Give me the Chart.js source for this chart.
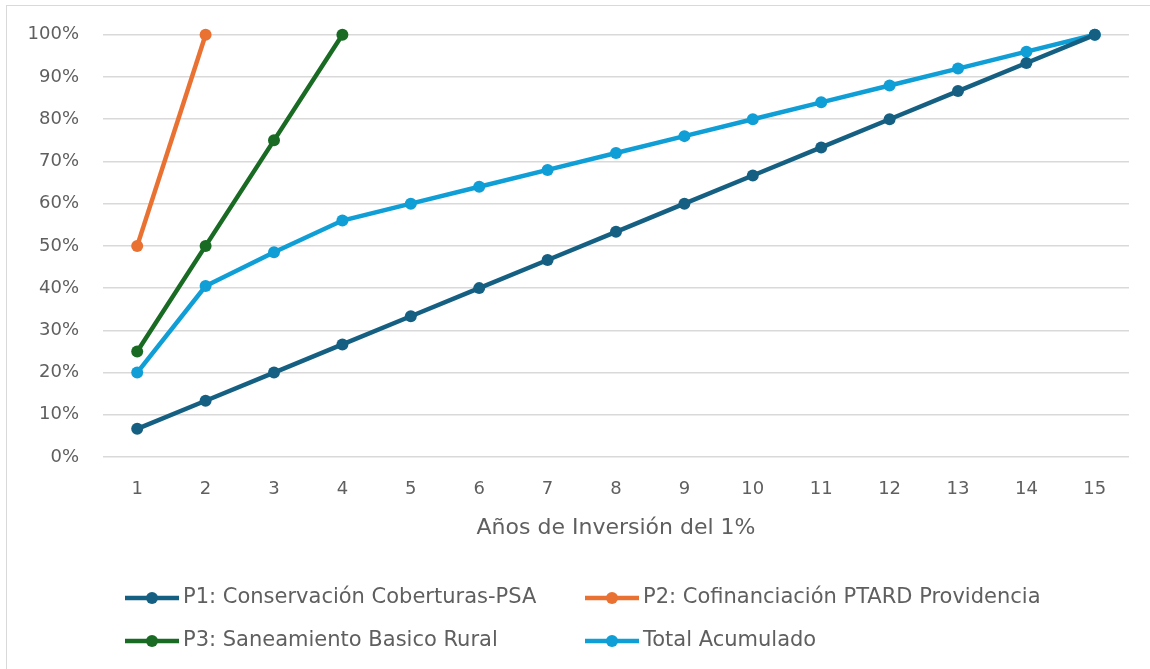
<!DOCTYPE html>
<html>
<head>
<meta charset="utf-8">
<script src="https://cdn.jsdelivr.net/npm/chart.js@4/dist/chart.umd.min.js"></script>
<style>
  html, body { margin: 0; padding: 0; background: #fff; }
  #wrap { position: relative; width: 1150px; height: 669px; }
  #frame { position: absolute; left: 6px; top: 5px; width: 1150px; height: 670px; border: 1px solid #d9d9d9; box-sizing: border-box; }
</style>
</head>
<body>
<div id="wrap">
  <div id="frame"></div>
  <canvas id="chart" width="1150" height="669"></canvas>
</div>
<script>
// data
const years = ['1', '2', '3', '4', '5', '6', '7', '8', '9', '10', '11', '12', '13', '14', '15'];
const p1Values = [6.67, 13.33, 20, 26.67, 33.33, 40, 46.67, 53.33, 60, 66.67, 73.33, 80, 86.67, 93.33, 100];
const p2Values = [50, 100];
const p3Values = [25, 50, 75, 100];
const totalValues = [20, 40.5, 48.5, 56, 60, 64, 68, 72, 76, 80, 84, 88, 92, 96, 100];
const seriesNames = [
  'P1: Conservación Coberturas-PSA',
  'P2: Cofinanciación PTARD Providencia',
  'P3: Saneamiento Basico Rural',
  'Total Acumulado'
];
const seriesColors = ['#156082', '#E97132', '#196B24', '#0F9ED5'];

const FONT = '"DejaVu Sans", sans-serif';
const TEXT = '#5f5f5f';

function makeSet(i, values) {
  return {
    label: seriesNames[i],
    data: values,
    borderColor: seriesColors[i],
    backgroundColor: seriesColors[i],
    borderWidth: 4.5,
    pointRadius: 6,
    pointHoverRadius: 6,
    pointBorderWidth: 0,
    tension: 0,
    fill: false,
    clip: false
  };
}

// legend in two columns, drawn under the axis title
const legendPlugin = {
  id: 'twoColLegend',
  afterDraw(chart) {
    const ctx = chart.ctx;
    const cols = [125, 585];
    const rows = [598, 641];
    ctx.save();
    chart.data.datasets.forEach((ds, k) => {
      const x = cols[k % 2];
      const y = rows[Math.floor(k / 2)];
      ctx.strokeStyle = ds.borderColor;
      ctx.lineWidth = 4.5;
      ctx.beginPath();
      ctx.moveTo(x, y);
      ctx.lineTo(x + 54, y);
      ctx.stroke();
      ctx.fillStyle = ds.borderColor;
      ctx.beginPath();
      ctx.arc(x + 27, y, 6, 0, 2 * Math.PI);
      ctx.fill();
      ctx.fillStyle = TEXT;
      ctx.font = '21px ' + FONT;
      ctx.textBaseline = 'middle';
      ctx.textAlign = 'left';
      ctx.fillText(ds.label, x + 58, y);
    });
    ctx.restore();
  }
};

const ctx = document.getElementById('chart').getContext('2d');
new Chart(ctx, {
  type: 'line',
  data: {
    labels: years,
    datasets: [
      makeSet(0, p1Values),
      makeSet(1, p2Values),
      makeSet(2, p3Values),
      makeSet(3, totalValues)
    ]
  },
  options: {
    responsive: false,
    animation: false,
    layout: { padding: { top: 34, left: 10, right: 21, bottom: 124 } },
    plugins: {
      legend: { display: false },
      tooltip: { enabled: false }
    },
    scales: {
      x: {
        offset: true,
        grid: { display: false, drawTicks: false },
        border: { display: false },
        ticks: { color: TEXT, font: { family: FONT, size: 18 }, padding: 22 },
        title: {
          display: true,
          text: 'Años de Inversión del 1%',
          color: TEXT,
          font: { family: FONT, size: 22 },
          padding: { top: 4, bottom: 4 }
        },
        afterFit(scale) { scale.height = 88; }
      },
      y: {
        min: 0,
        max: 100,
        ticks: {
          stepSize: 10,
          color: TEXT,
          font: { family: FONT, size: 18 },
          padding: 24,
          callback: v => v + '%'
        },
        grid: { color: '#d9d9d9', lineWidth: 1.5, drawTicks: false },
        border: { display: false },
        afterFit(scale) { scale.width = 93; }
      }
    }
  },
  plugins: [legendPlugin]
});
</script>
</body>
</html>
